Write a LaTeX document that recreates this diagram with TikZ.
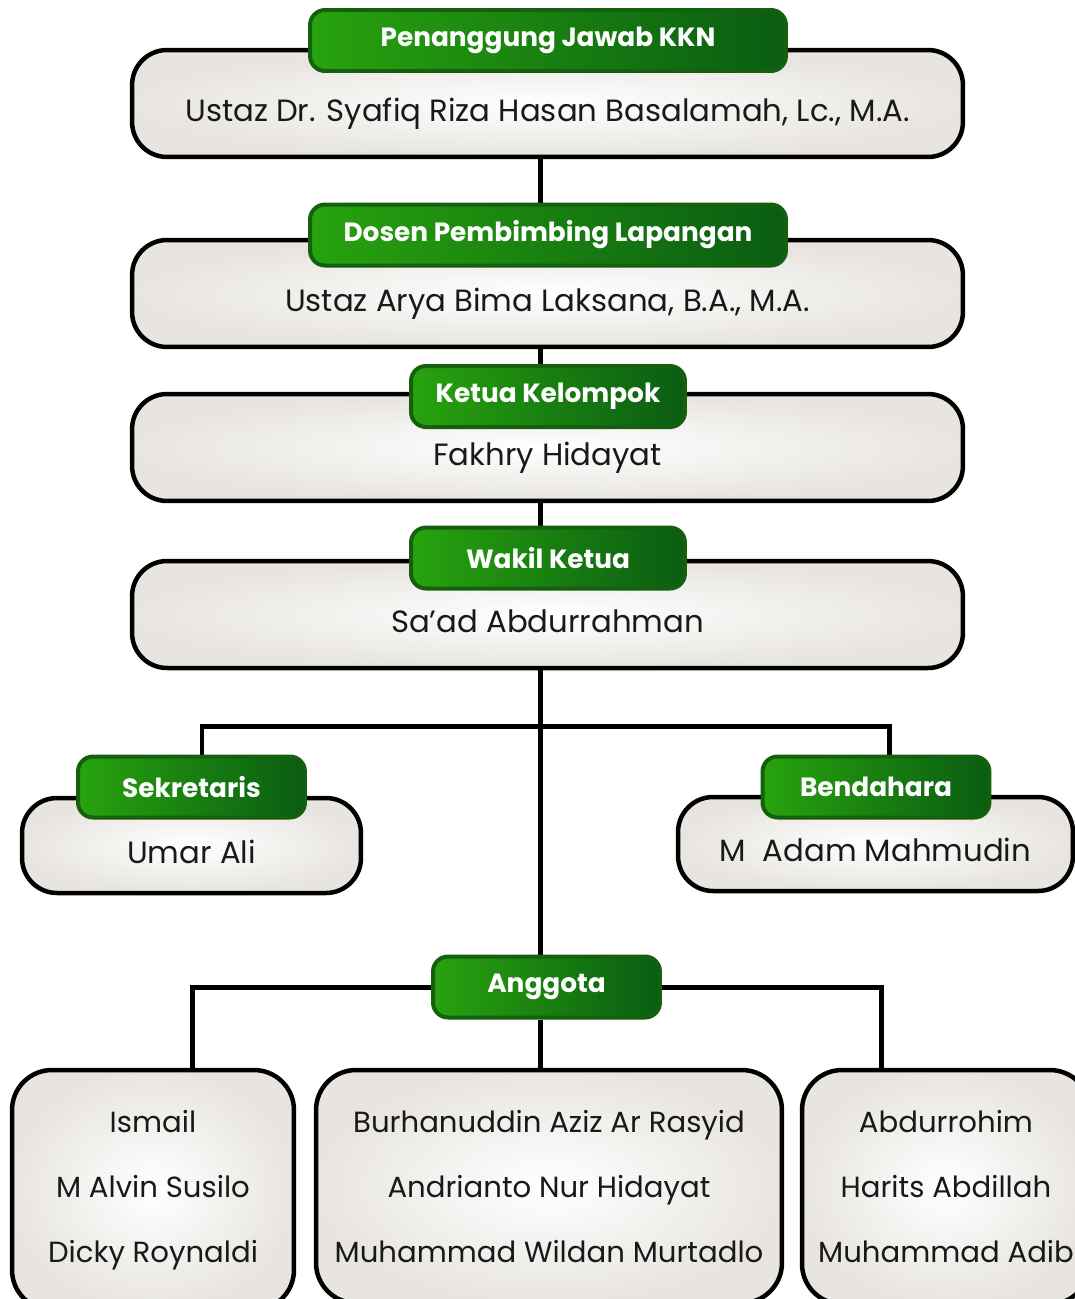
\documentclass[tikz,border=0pt]{standalone}
\usepackage{fontspec}
\setmainfont{Poppins}
\usetikzlibrary{backgrounds}
\definecolor{grnL}{HTML}{28A30E}
\definecolor{grnR}{HTML}{0A5C12}
\definecolor{grnD}{HTML}{14600F}
\definecolor{boxg}{HTML}{E8E5E0}
\tikzset{
  box/.style={draw=black, line width=0.09cm, rounded corners=0.7cm,
    inner color=white, outer color=boxg, text=black!90,
    font=\fontsize{17.5}{20}\selectfont, text height=0.8cm, text depth=0.1cm},
  team/.style={draw=black, line width=0.09cm, rounded corners=0.8cm,
    inner color=white, outer color=boxg, text=black!90, align=center,
    font=\fontsize{16.6}{37}\selectfont, minimum height=4.8cm},
  post/.style={draw=grnD, line width=0.08cm, rounded corners=0.3cm,
    left color=grnL, right color=grnR, text=white,
    font=\bfseries\fontsize{15}{17}\selectfont, minimum height=1.22cm},
  link/.style={line width=0.1cm, black}
}

\begin{document}
\begin{tikzpicture}[x=0.02cm,y=-0.02cm]
  \useasboundingbox (0,0) rectangle (1075,1299);
  % pengurus inti
  \node[box, minimum width=16.62cm, minimum height=2.14cm] (pj) at (547.5,103.5) {Ustaz Dr. Syafiq Riza Hasan Basalamah, Lc., M.A.};
  \node[post, minimum width=9.52cm] (pjT) at (548,40.5) {Penanggung Jawab KKN};
  \node[box, minimum width=16.62cm, minimum height=2.14cm] (dpl) at (547.5,293.5) {Ustaz Arya Bima Laksana, B.A., M.A.};
  \node[post, minimum width=9.52cm] (dplT) at (548,235) {Dosen Pembimbing Lapangan};
  \node[box, minimum width=16.62cm, minimum height=2.14cm] (ketua) at (547.5,447.5) {Fakhry Hidayat};
  \node[post, minimum width=5.48cm] (ketuaT) at (548,396.5) {Ketua Kelompok};
  \node[box, minimum width=16.62cm, minimum height=2.14cm] (wakil) at (547.5,614.5) {Sa’ad Abdurrahman};
  \node[post, minimum width=5.48cm] (wakilT) at (548,558) {Wakil Ketua};
  % sekretaris dan bendahara
  \node[box, minimum width=6.78cm, minimum height=1.9cm] (sek) at (191.5,845.5) {Umar Ali};
  \node[post, minimum width=4.54cm] (sekT) at (191.5,787) {Sekretaris};
  \node[box, minimum width=7.9cm, minimum height=1.88cm] (ben) at (875.5,844) {M\ \ Adam Mahmudin};
  \node[post, minimum width=4.54cm] (benT) at (876,787) {Bendahara};
  % anggota
  \node[team, minimum width=5.64cm] (agL) at (153,1190) {Ismail\\M Alvin Susilo\\Dicky Roynaldi};
  \node[team, minimum width=9.32cm, minimum height=4.66cm] (agM) at (549,1186.5) {Burhanuddin Aziz Ar Rasyid\\Andrianto Nur Hidayat\\Muhammad Wildan Murtadlo};
  \node[team, minimum width=5.76cm, minimum height=4.68cm] (agR) at (946,1187) {Abdurrohim\\Harits Abdillah\\Muhammad Adib};
  \node[post, minimum width=4.54cm] (agT) at (546.5,987) {Anggota};
  \coordinate (cabang) at (540,726);

  \begin{scope}[on background layer]
    \draw[link] (pj.south -| cabang) -- (dplT.north -| cabang);
    \draw[link] (dpl.south -| cabang) -- (ketuaT.north -| cabang);
    \draw[link] (ketua.south -| cabang) -- (wakilT.north -| cabang);
    \draw[link] (wakil.south -| cabang) -- (agT.north -| cabang);
    \draw[link] ([xshift=0.21cm]sekT.north) |- (cabang) -| ([xshift=0.26cm]benT.north);
    \draw[link] (agT.west) -| ([xshift=0.8cm]agL.north);
    \draw[link] (agT.east) -| ([xshift=-1.3cm]agR.north);
    \draw[link] (agT.south -| cabang) -- (agM.north -| cabang);
  \end{scope}
\end{tikzpicture}
\end{document}
